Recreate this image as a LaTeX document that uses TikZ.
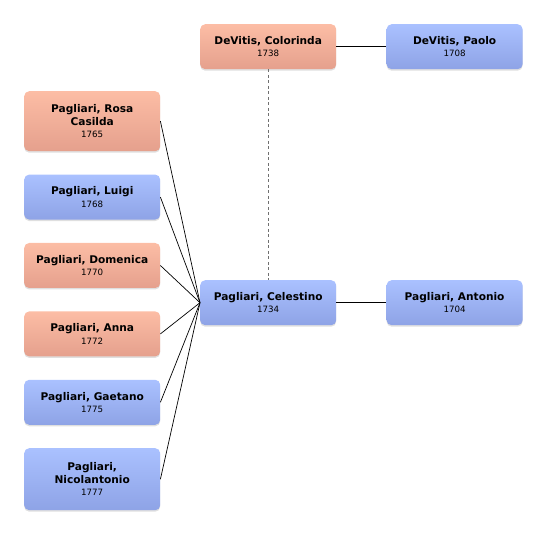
\documentclass[tikz,border=0pt]{standalone}
\usepackage{fontspec}
\setmainfont{DejaVu Sans}
\usetikzlibrary{positioning,shadows}
\definecolor{femtop}{HTML}{FCBDA5}
\definecolor{fembot}{HTML}{E5A08D}
\definecolor{maltop}{HTML}{AAC1FF}
\definecolor{malbot}{HTML}{8EA3E6}
\definecolor{linkgray}{HTML}{707070}
\newcommand{\yr}[1]{\\{\mdseries\fontsize{8.7}{11}\selectfont #1}}

\begin{document}
\begin{tikzpicture}[x=1pt,y=1pt,node distance=23pt and 50pt]
  \tikzstyle{person}=[rounded corners=5pt,minimum width=136pt,minimum height=45pt,align=center,
    inner sep=2pt,font=\fontsize{10.6}{12.5}\selectfont\bfseries,
    drop shadow={shadow xshift=0pt,shadow yshift=-1.5pt,opacity=0.25}]
  \tikzstyle{fem}=[person,top color=femtop,bottom color=fembot]
  \tikzstyle{mal}=[person,top color=maltop,bottom color=malbot]
  \useasboundingbox (0,0) rectangle (546,-537);
  % children
  \node[fem,anchor=north west,minimum height=60pt] (rosa) at (24,-91) {Pagliari, Rosa\\Casilda\yr{1765}};
  \node[mal,below=of rosa] (luigi) {Pagliari, Luigi\yr{1768}};
  \node[fem,below=of luigi] (domenica) {Pagliari, Domenica\yr{1770}};
  \node[fem,below=of domenica] (anna) {Pagliari, Anna\yr{1772}};
  \node[mal,below=of anna] (gaetano) {Pagliari, Gaetano\yr{1775}};
  \node[mal,below=of gaetano,minimum height=62pt] (nicolantonio) {Pagliari,\\Nicolantonio\yr{1777}};
  % parents
  \node[fem,anchor=north west] (colorinda) at (200,-24) {DeVitis, Colorinda\yr{1738}};
  \node[mal,right=of colorinda] (paolo) {DeVitis, Paolo\yr{1708}};
  \node[mal,anchor=north west] (celestino) at (200,-280) {Pagliari, Celestino\yr{1734}};
  \node[mal,right=of celestino] (antonio) {Pagliari, Antonio\yr{1704}};
  \draw[line width=0.8pt] (colorinda) -- (paolo);
  \draw[line width=0.8pt] (celestino) -- (antonio);
  \draw[linkgray,line width=1.3pt,dash pattern=on 3pt off 2.5pt] (colorinda) -- (celestino);
  \foreach \c in {rosa,luigi,domenica,anna,gaetano,nicolantonio}
    \draw[line width=0.7pt] (\c.east) -- (celestino.west);
\end{tikzpicture}
\end{document}
